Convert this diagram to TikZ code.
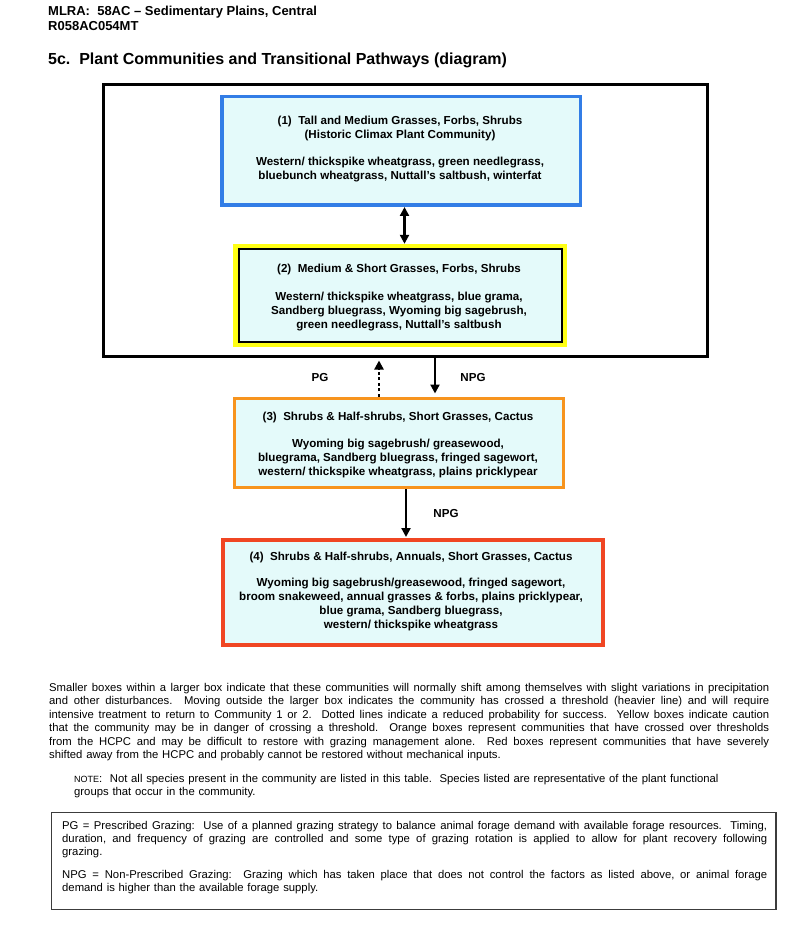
\documentclass[tikz,border=0pt]{standalone}
\usepackage{fontspec}
\setmainfont{Liberation Sans}
\usetikzlibrary{arrows.meta}
\definecolor{boxfill}{RGB}{228,250,250}
\definecolor{cblue}{RGB}{50,125,230}
\definecolor{cyellow}{RGB}{255,255,20}
\definecolor{corange}{RGB}{247,148,30}
\definecolor{cred}{RGB}{240,70,35}
\definecolor{cgray}{RGB}{60,60,60}
\newcommand\jline[2]{\hbox to #1{\spaceskip=0.278em plus 1em minus 0.05em\relax #2}}
\newcommand\nline[1]{\hbox{#1}}
\frenchspacing
\begin{document}
\begin{tikzpicture}[x=1pt,y=-1pt,
  every node/.style={inner sep=0pt},
  commbox/.style={draw, fill=boxfill},
  ctext/.style={align=center, font=\fontsize{11.6}{14}\selectfont\bfseries},
  lbl/.style={font=\fontsize{11.6}{14}\selectfont\bfseries},
  arr/.style={line width=2.7pt, draw=black},
  tip/.tip={Triangle[length=9pt,width=9pt]},
  bodytext/.style={anchor=base west, font=\fontsize{11.3}{13.45}\selectfont}
  ]
\useasboundingbox (0,0) rectangle (800,941);
\fill[white] (0,0) rectangle (800,941);

% header
\node[anchor=base west, font=\fontsize{13}{15}\selectfont\bfseries] (h1) at (48,15.5) {MLRA:~ 58AC – Sedimentary Plains, Central};
\node[anchor=base west, font=\fontsize{13}{15}\selectfont\bfseries] (h2) at (48,31) {R058AC054MT};
\node[anchor=base west, font=\fontsize{16}{19}\selectfont\bfseries] (title) at (48,64.5) {5c.~ Plant Communities and Transitional Pathways (diagram)};

% outer box
\node[draw=black, line width=2.8pt, minimum width=604.2pt, minimum height=272.2pt] (outer) at (405.5,220.5) {};

% community boxes
\node[commbox, draw=cblue, line width=3.5pt, minimum width=358.5pt, minimum height=108.5pt] (b1) at (401,151) {};
\node[draw=cyellow, line width=4.5pt, minimum width=329.5pt, minimum height=98.9pt] (b2y) at (400.1,295.5) {};
\node[commbox, draw=black, line width=2pt, minimum width=323pt, minimum height=92.4pt] (b2) at (400.1,295.5) {};
\node[commbox, draw=corange, line width=3pt, minimum width=329pt, minimum height=89.5pt] (b3) at (399,442.75) {};
\node[commbox, draw=cred, line width=4pt, minimum width=380.5pt, minimum height=105pt] (b4) at (412.75,592.5) {};

% box texts
\node[ctext] (t1) at (400,149.5) {(1)~ Tall and Medium Grasses, Forbs, Shrubs\\(Historic Climax Plant Community)\\[13pt]Western/ thickspike wheatgrass, green needlegrass,\\bluebunch wheatgrass, Nuttall’s saltbush, winterfat};
\node[ctext] (t2) at (399,297.5) {(2)~ Medium \& Short Grasses, Forbs, Shrubs\\[13.5pt]Western/ thickspike wheatgrass, blue grama,\\Sandberg bluegrass, Wyoming big sagebrush,\\green needlegrass, Nuttall’s saltbush};
\node[ctext] (t3) at (398,445.2) {(3)~ Shrubs \& Half-shrubs, Short Grasses, Cactus\\[13.5pt]Wyoming big sagebrush/ greasewood,\\bluegrama, Sandberg bluegrass, fringed sagewort,\\western/ thickspike wheatgrass, plains pricklypear};
\node[ctext] (t4) at (411,591.3) {(4)~ Shrubs \& Half-shrubs, Annuals, Short Grasses, Cactus\\[12.5pt]Wyoming big sagebrush/greasewood, fringed sagewort,\\broom snakeweed, annual grasses \& forbs, plains pricklypear,\\blue grama, Sandberg bluegrass,\\western/ thickspike wheatgrass};

% connectors
\coordinate (x12) at (404.5,0);
\coordinate (xpg) at (379,0);
\coordinate (xnpg) at (435,0);
\coordinate (x34) at (406,0);
\draw[arr, tip-tip] (b1.south -| x12) -- (b2y.north -| x12);
\draw[arr, -tip, dash pattern=on 3pt off 2.5pt, shorten >=2.5pt] (b3.north -| xpg) -- (outer.south -| xpg);
\draw[arr, -tip, shorten >=3pt] (outer.south -| xnpg) -- (b3.north -| xnpg);
\draw[arr, -tip, shorten >=1pt] (b3.south -| x34) -- (b4.north -| x34);

\node[lbl] (pg) at (320,378) {PG};
\node[lbl] (npg1) at (473,378) {NPG};
\node[lbl] (npg2) at (446,514) {NPG};

% explanatory paragraph
\node[bodytext, text width=720pt] (para) at (49,691.5) {\vtop{%
\jline{720pt}{Smaller boxes within a larger box indicate that these communities will normally shift among themselves with slight variations in precipitation}%
\jline{720pt}{and other disturbances.~ Moving outside the larger box indicates the community has crossed a threshold (heavier line) and will require}%
\jline{720pt}{intensive treatment to return to Community 1 or 2.~ Dotted lines indicate a reduced probability for success.~ Yellow boxes indicate caution}%
\jline{720pt}{that the community may be in danger of crossing a threshold.~ Orange boxes represent communities that have crossed over thresholds}%
\jline{720pt}{from the HCPC and may be difficult to restore with grazing management alone.~ Red boxes represent communities that have severely}%
\nline{shifted away from the HCPC and probably cannot be restored without mechanical inputs.}}};

\node[bodytext, text width=690pt] (note) at (74,782) {\vtop{%
\nline{{\fontsize{9}{10}\selectfont NOTE}:~ Not all species present in the community are listed in this table.~ Species listed are representative of the plant functional}%
\nline{groups that occur in the community.}}};

% legend box
\node[draw=cgray, line width=1.3pt, minimum width=724.3pt, minimum height=97pt] (legend) at (413.8,860.85) {};
\node[bodytext, text width=705pt] (lg1) at (62,829) {\vtop{%
\jline{705pt}{PG = Prescribed Grazing:~ Use of a planned grazing strategy to balance animal forage demand with available forage resources.~ Timing,}%
\jline{705pt}{duration, and frequency of grazing are controlled and some type of grazing rotation is applied to allow for plant recovery following}%
\nline{grazing.}}};
\node[bodytext, text width=705pt] (lg2) at (62,878) {\vtop{%
\jline{705pt}{NPG = Non-Prescribed Grazing:~ Grazing which has taken place that does not control the factors as listed above, or animal forage}%
\nline{demand is higher than the available forage supply.}}};
\end{tikzpicture}
\end{document}
